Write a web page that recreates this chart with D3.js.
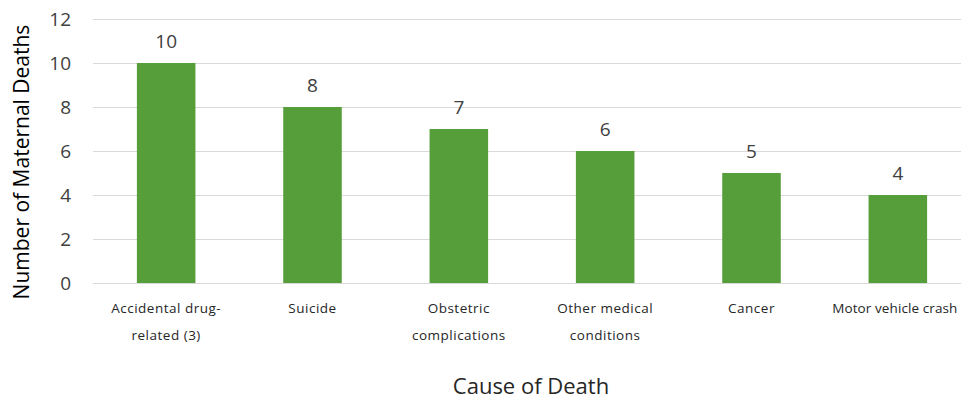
<!DOCTYPE html>
<html><head><meta charset="utf-8">
<script src="https://cdn.jsdelivr.net/npm/d3@7"></script>
<style>body{margin:0;background:#fff;overflow:hidden}svg{display:block}</style>
</head><body>
<script>
const categories = ["Accidental drug-related (3)", "Suicide", "Obstetric complications", "Other medical conditions", "Cancer", "Motor vehicle crash"];
const categoryLines = [["Accidental drug-", "related (3)"], ["Suicide"], ["Obstetric", "complications"], ["Other medical", "conditions"], ["Cancer"], ["Motor vehicle crash"]];
const deaths = [10, 8, 7, 6, 5, 4];
const yTicks = [0, 2, 4, 6, 8, 10, 12];

const W = 961, H = 400;
const m = {left: 93, top: 19, bottom: 283, right: 971};
const svg = d3.select("body").append("svg").attr("width", W).attr("height", H);
const font = "'Open Sans', 'Liberation Sans', sans-serif";

const x = d3.scaleBand().domain(categories).range([m.left, m.right]).paddingInner(0.6).paddingOuter(0.3);
const y = d3.scaleLinear().domain([0, 12]).range([m.bottom, m.top]);

// gridlines
svg.append("g").selectAll("line").data(yTicks).join("line")
  .attr("x1", m.left).attr("x2", W)
  .attr("y1", d => y(d) + 0.5).attr("y2", d => y(d) + 0.5)
  .attr("stroke", "#d9d9d9").attr("stroke-width", 1);

// y axis labels
const yAxis = d3.axisLeft(y).tickValues(yTicks).tickSize(0).tickPadding(0);
const ya = svg.append("g").attr("transform", `translate(${m.left - 22},0)`).call(yAxis);
ya.select(".domain").remove();
ya.selectAll("text").attr("font-family", font).attr("font-size", 19).attr("fill", "#404040").attr("dy", "0.35em");

// bars
svg.append("g").selectAll("rect").data(categories).join("rect")
  .attr("x", d => x(d)).attr("width", x.bandwidth())
  .attr("y", (d, i) => y(deaths[i])).attr("height", (d, i) => y(0) - y(deaths[i]))
  .attr("fill", "#559e3a");

// value labels
svg.append("g").selectAll("text").data(categories).join("text")
  .attr("x", d => x(d) + x.bandwidth() / 2)
  .attr("y", (d, i) => y(deaths[i]) - 15)
  .attr("text-anchor", "middle").attr("font-family", font).attr("font-size", 19).attr("fill", "#404040")
  .text((d, i) => deaths[i]);

// category labels
const cl = svg.append("g").selectAll("text").data(categories).join("text")
  .attr("text-anchor", "middle").attr("font-family", font).attr("font-size", 13.5)
  .attr("letter-spacing", (d, i) => i === categories.length - 1 ? 0.1 : 0.5).attr("fill", "#262626");
cl.each(function(d, i) {
  const t = d3.select(this);
  categoryLines[i].forEach((ln, j) => {
    t.append("tspan").attr("x", x(d) + x.bandwidth() / 2 - (i === categories.length - 1 ? 3 : 0)).attr("y", 313 + j * 27).text(ln);
  });
});

// axis titles
svg.append("text").attr("transform", `translate(29,162) rotate(-90)`)
  .attr("text-anchor", "middle").attr("font-family", font).attr("font-size", 21).attr("fill", "#000")
  .text("Number of Maternal Deaths");
svg.append("text").attr("x", 531).attr("y", 394)
  .attr("text-anchor", "middle").attr("font-family", font).attr("font-size", 22).attr("fill", "#262626")
  .text("Cause of Death");
</script>
</body></html>
